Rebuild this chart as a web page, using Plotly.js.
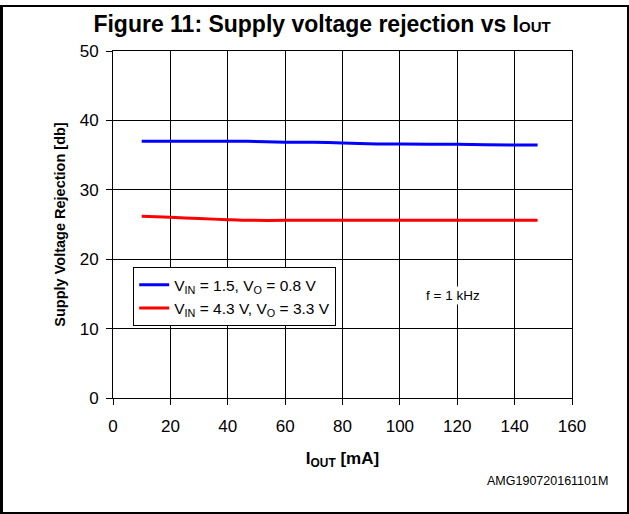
<!DOCTYPE html>
<html>
<head>
<meta charset="utf-8">
<script src="https://cdn.plot.ly/plotly-3.0.1.min.js"></script>
<style>
html,body{margin:0;padding:0;background:#fff;}
#wrap{position:relative;width:629px;height:514px;}
#chart{width:629px;height:514px;}
#frame{position:absolute;left:0;top:5px;width:624px;height:505px;border-left:3px solid #000;border-top:2px solid #000;border-right:2px solid #000;border-bottom:2px solid #000;pointer-events:none;}
</style>
</head>
<body>
<div id="wrap"><div id="chart"></div><div id="frame"></div></div>
<script>
const xBlue = [10, 20, 30, 47, 60, 70, 80, 92, 100, 120, 140, 148];
const yBlue = [37.0, 37.0, 37.0, 37.0, 36.85, 36.85, 36.75, 36.6, 36.6, 36.55, 36.45, 36.45];
const xRed = [10, 20, 30, 40, 47, 60, 80, 100, 120, 140, 148];
const yRed = [26.2, 26.05, 25.85, 25.7, 25.6, 25.6, 25.6, 25.6, 25.6, 25.6, 25.6];
const nameBlue = 'V<sub>IN</sub> = 1.5, V<sub>O</sub> = 0.8 V';
const nameRed = 'V<sub>IN</sub> = 4.3 V, V<sub>O</sub> = 3.3 V';
const xTicks = [0, 20, 40, 60, 80, 100, 120, 140, 160];
const yTicks = [0, 10, 20, 30, 40, 50];

const traces = [
  {x: xBlue, y: yBlue, name: nameBlue, mode: 'lines', line: {color: '#0000ff', width: 3, shape: 'spline', smoothing: 0.6}},
  {x: xRed, y: yRed, name: nameRed, mode: 'lines', line: {color: '#ff0000', width: 3, shape: 'spline', smoothing: 0.6}}
];

const layout = {
  width: 629, height: 514,
  margin: {l: 113, r: 57, t: 51, b: 116},
  paper_bgcolor: '#fff', plot_bgcolor: '#fff',
  font: {family: 'Liberation Sans, Arial, sans-serif', color: '#000'},
  title: {text: '<b>Figure 11: Supply voltage rejection vs I<span style="font-size:15px">OUT</span></b>', font: {size: 23}, x: 0.512, xanchor: 'center', y: 0.953, yanchor: 'middle'},
  xaxis: {
    range: [0, 160], tickvals: xTicks, ticktext: xTicks.map(String),
    showgrid: true, gridcolor: '#000', gridwidth: 1,
    showline: true, linecolor: '#000', linewidth: 1, mirror: true,
    ticks: 'outside', ticklen: 6, tickcolor: '#000', ticklabelstandoff: 7,
    tickfont: {size: 17}, zeroline: false,
    title: {text: '<b>I<sub>OUT</sub> [mA]</b>', font: {size: 17}, standoff: 16}
  },
  yaxis: {
    range: [0, 50], tickvals: yTicks, ticktext: yTicks.map(String),
    showgrid: true, gridcolor: '#000', gridwidth: 1,
    showline: true, linecolor: '#000', linewidth: 1, mirror: true,
    ticks: 'outside', ticklen: 6, tickcolor: '#000', ticklabelstandoff: 4,
    tickfont: {size: 17}, zeroline: false,
    title: {text: '<b>Supply Voltage Rejection [db]</b>', font: {size: 14.5}, standoff: 10}
  },
  showlegend: true,
  legend: {x: 0.044, y: 0.377, xanchor: 'left', yanchor: 'top', bgcolor: '#fff', bordercolor: '#000', borderwidth: 1, font: {size: 15.5}, tracegroupgap: 0, itemwidth: 30},
  annotations: [
    {text: 'f = 1 kHz', xref: 'x', yref: 'y', x: 118.5, y: 14.7, showarrow: false, font: {size: 13.5}, bgcolor: '#fff'},
    {text: 'AMG190720161101M', xref: 'paper', yref: 'paper', x: 1.083, y: -0.238, xanchor: 'right', yanchor: 'middle', showarrow: false, font: {size: 12.5}}
  ]
};

Plotly.newPlot('chart', traces, layout, {displayModeBar: false, staticPlot: true});
</script>
</body>
</html>
